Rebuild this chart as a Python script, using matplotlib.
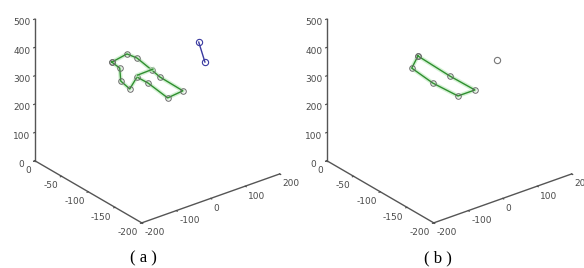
import numpy as np
import matplotlib
matplotlib.use("Agg")
import matplotlib.pyplot as plt

plt.rcParams["axes.unicode_minus"] = False

# ---- data (x, y, z) ----
# panel (a): green polygon (closed outline of the tracked hand shape)
a_poly_x = [-132, -88, -59, -16, 7, 74, 30, -27, -59, -80, -106, -109, -132]
a_poly_y = [-100] * 13
a_poly_z = [428, 438, 411, 350, 316, 238, 232, 309, 344, 311, 350, 397, 428]
# panel (a): inner stroke of the green shape
a_stroke_x = [-57, -13]
a_stroke_y = [-100, -100]
a_stroke_z = [350, 352]
# panel (a): blue segment
a_blue_x = [120, 138]
a_blue_y = [-100, -100]
a_blue_z = [390, 312]
# panel (b): green loop
b_poly_x = [-91, 1, 74, 25, -48, -109, -91]
b_poly_y = [-100] * 7
b_poly_z = [432, 322, 241, 241, 318, 397, 432]
# panel (b): single point
b_pt_x = [138]
b_pt_y = [-100]
b_pt_z = [319]

x_ticks = [-200, -100, 0, 100, 200]
y_ticks = [-200, -150, -100, -50, 0]
z_ticks = [0, 100, 200, 300, 400, 500]
captions = ["( a )", "( b )"]

AX_COL = "#555555"
TXT_COL = "#4a4a4a"
GREEN = "#2f8f2f"
HALO = "#b8e8b8"
BLUE = "#3a3aa0"

fig = plt.figure(figsize=(5.84, 2.68), dpi=100)


def setup(ax):
    ax.set_proj_type("ortho")
    ax.view_init(elev=27, azim=-128)
    ax.set_box_aspect((1.1, 1.09, 1.0), zoom=1.155)
    ax.set_xlim(-200, 200)
    ax.set_ylim(-200, 0)
    ax.set_zlim(0, 500)
    ax.set_xticks(x_ticks)
    ax.set_yticks(y_ticks)
    ax.set_zticks(z_ticks)
    ax.grid(False)
    for axis in (ax.xaxis, ax.yaxis, ax.zaxis):
        axis.pane.fill = False
        axis.pane.set_edgecolor((1, 1, 1, 0))
        axis.line.set_color(AX_COL)
        axis.line.set_linewidth(1.0)
        axis._axinfo["tick"]["inward_factor"] = 0.12
        axis._axinfo["tick"]["outward_factor"] = 0.0
        axis._axinfo["tick"]["color"] = AX_COL
    ax.tick_params(labelsize=6.5, colors=TXT_COL)
    ax.tick_params(axis="x", pad=-5.5)
    ax.tick_params(axis="y", pad=-5.5)
    ax.tick_params(axis="z", pad=-3)
    for lab in ax.get_yticklabels():
        lab.set_horizontalalignment("right")
    for lab in ax.get_xticklabels():
        lab.set_horizontalalignment("left")
    ax.patch.set_alpha(0)


def draw_poly(ax, xs, ys, zs, color, marker=True):
    ax.plot(xs, ys, zs, color=HALO, lw=3.0, alpha=0.6)
    ax.plot(xs, ys, zs, color=color, lw=1.0,
            marker="o" if marker else None, ms=4, mfc="none", mec="#6a6a6a", mew=0.7)


ax1 = fig.add_axes([0.0137, 0.1676, 0.5, 0.92], projection="3d")
setup(ax1)
draw_poly(ax1, a_poly_x, a_poly_y, a_poly_z, GREEN)
draw_poly(ax1, a_stroke_x, a_stroke_y, a_stroke_z, GREEN, marker=False)
ax1.plot(a_blue_x, a_blue_y, a_blue_z, color=BLUE, lw=1.0, marker="o", ms=4.5,
         mfc="none", mec=BLUE, mew=0.8)

ax2 = fig.add_axes([0.5137, 0.1676, 0.5, 0.92], projection="3d")
setup(ax2)
draw_poly(ax2, b_poly_x, b_poly_y, b_poly_z, GREEN)
ax2.plot(b_pt_x, b_pt_y, b_pt_z, ls="none", marker="o", ms=4.5, mfc="none",
         mec="#777777", mew=0.8)

fig.text(143 / 584, 0.034, captions[0], ha="center", va="center", fontsize=12,
         family="Liberation Serif")
fig.text(438 / 584, 0.034, captions[1], ha="center", va="center", fontsize=12,
         family="Liberation Serif")

fig.savefig("out.png", dpi=100)
